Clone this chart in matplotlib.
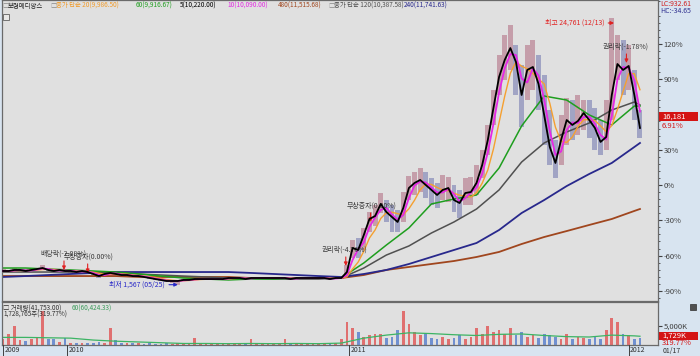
import numpy as np
import pandas as pd
import matplotlib.pyplot as plt
from matplotlib.patches import Rectangle
from matplotlib.transforms import blended_transform_factory as blend

plt.rcParams['font.family'] = ['Noto Sans CJK KR', 'DejaVu Sans']

# trading day index, one sample every 5 days (0 = Oct 2009, 565 = 2012-01-17)
days = list(range(0, 566, 5))
close = [2760, 2760, 2850, 2850, 2760, 2850, 2930, 3020, 2850, 2760, 2850, 2760, 2760, 2670, 2760, 2670,
         2500, 2320, 2500, 2590, 2500, 2410, 2410, 2320, 2320, 2240, 2150, 2060, 1980, 1890, 1890, 1890,
         1980, 1980, 2060, 2060, 2060, 2060, 2060, 2060, 2150, 2150, 2150, 2060, 2150, 2150, 2150, 2150,
         2150, 2150, 2150, 2060, 2150, 2150, 2150, 2150, 2150, 2150, 2060, 2150, 2150,
         2670, 4760, 4590, 5900, 7290, 7550, 8600, 7900, 7460, 7030, 8250, 9990, 10430, 10690, 10250, 9820,
         9380, 9820, 9990, 8940, 8680, 9550, 9640, 10430, 11990, 14170, 16960, 19660, 21140, 22180, 20960,
         18090, 20270, 20530, 19050, 16350, 13560, 12170, 14170, 15910, 15480, 15830, 16520, 15910, 15220,
         14000, 14430, 18090, 20790, 20270, 20620, 18090, 15220]
high = [2900, 2850, 2980, 2940, 2900, 2940, 3020, 3300, 3020, 2850, 2940, 2850, 2850, 2760, 2850, 2760,
        2670, 2500, 2590, 2760, 2590, 2500, 2500, 2410, 2410, 2320, 2240, 2150, 2060, 1980, 1980, 1980,
        2060, 2060, 2150, 2150, 2150, 2150, 2150, 2150, 2240, 2240, 2240, 2150, 2240, 2240, 2240, 2240,
        2240, 2240, 2240, 2150, 2240, 2240, 2240, 2240, 2240, 2240, 2150, 2240, 2240,
        3280, 5460, 5640, 6500, 7900, 8510, 9550, 8940, 8510, 8070, 9640, 11030, 11380, 11730, 11380, 10860,
        10430, 11120, 10950, 10250, 9820, 10860, 10950, 11990, 13300, 15480, 18530, 21570, 23320, 24190, 22450,
        20700, 22450, 22880, 21570, 19830, 16780, 14170, 16350, 17830, 17650, 18090, 17650, 17650, 16960,
        15910, 17650, 24761, 23320, 22880, 22450, 20270, 16780]
low = [2680, 2670, 2760, 2760, 2670, 2760, 2850, 2900, 2760, 2670, 2760, 2670, 2590, 2590, 2670, 2500,
       2410, 2150, 2410, 2500, 2410, 2320, 2320, 2240, 2240, 2150, 2060, 1980, 1890, 1800, 1720, 1567,
       1890, 1890, 1980, 1980, 1980, 1980, 1980, 1980, 2060, 2060, 2060, 1980, 2060, 2060, 2060, 2060,
       2060, 2060, 2060, 1980, 2060, 2060, 2060, 2060, 2060, 2060, 1980, 2060, 2060,
       2150, 3890, 3890, 4590, 6160, 6680, 7810, 7030, 6160, 6160, 7030, 8940, 9380, 9640, 9120, 8510,
       8250, 8940, 8770, 7900, 7380, 8510, 8510, 9380, 10860, 12860, 15480, 18090, 19400, 20270, 18090,
       15300, 17650, 18530, 16780, 13740, 11990, 10860, 11990, 13740, 14170, 14610, 15040, 14340, 13300,
       12860, 13300, 15910, 19400, 18090, 18530, 15910, 14340]
# thousand shares
volume = [1500, 3000, 5000, 1200, 1000, 1500, 2000, 9000, 1500, 1600, 800, 1800, 600, 500, 400, 600,
          500, 700, 600, 4400, 1200, 600, 500, 400, 500, 300, 400, 300, 300, 400, 300, 500,
          400, 300, 1800, 400, 300, 250, 300, 400, 300, 500, 300, 250, 1600, 300, 400, 250,
          300, 300, 1600, 300, 250, 300, 200, 300, 250, 300, 250, 500, 1500,
          6000, 4500, 3500, 2000, 2500, 3000, 2800, 1800, 2200, 4000, 9000, 5500, 3500, 2500, 3000, 1800,
          1500, 2000, 1500, 1800, 2500, 1500, 2000, 4500, 3000, 5000, 3500, 4000, 3000, 4500, 2500,
          3500, 2000, 2500, 1800, 3000, 2500, 2000, 1500, 2800, 1500, 2200, 1800, 1500, 2000,
          1500, 4000, 7000, 6000, 3000, 2500, 1500, 1729]

ma_days = list(range(0, 561, 20)) + [565]
ma60 = [3020, 3020, 2930, 2850, 2760, 2670, 2500, 2320, 2150, 2060, 1980, 2060, 2060, 2150, 2150, 2150,
        3460, 5020, 6510, 8600, 9030, 9380, 11730, 15390, 18000, 17650, 16350, 15480, 17130, 17130]
ma120 = [2670, 2670, 2670, 2670, 2670, 2590, 2500, 2410, 2320, 2240, 2150, 2150, 2060, 2060, 2060, 2150,
         3020, 4150, 4940, 6070, 7030, 8160, 9820, 12250, 13910, 14870, 15650, 16780, 17480, 17220]
ma240 = [2240, 2320, 2410, 2500, 2590, 2670, 2670, 2670, 2670, 2670, 2670, 2590, 2500, 2410, 2320, 2240,
         2500, 2850, 3370, 3980, 4590, 5200, 6330, 7810, 8940, 10160, 11210, 12170, 13560, 13910]
ma480 = [2320, 2320, 2320, 2320, 2320, 2320, 2240, 2240, 2240, 2240, 2240, 2150, 2150, 2150, 2150, 2150,
         2410, 2850, 3110, 3370, 3630, 3980, 4420, 5110, 5720, 6240, 6770, 7290, 7990, 8160]
vol_ma60 = [2000, 2000, 1900, 1800, 1300, 1000, 800, 600, 400, 400, 350, 400, 350, 400, 350, 500,
            1800, 2600, 3200, 3000, 2700, 2500, 2800, 2900, 2500, 2200, 2100, 2600, 2400, 2300]

year_idx = [0, 57, 307, 555]
year_lbl = ['2009', '2010', '2011', '2012']
last_date = '01/17'
base = 10250          # price at 0%
last_price = 16181
pct_ticks = [-90, -60, -30, 0, 30, 60, 90, 120]

# event marks: label, day, price at arrow tip
ev_lbl = ['배당락(-2.08%)', '무상증자(0.00%)', '권리락(-4.76%)', '무상증자(0.00%)', '권리락(-1.78%)']
ev_day = [54, 75, 304, 326, 553]
ev_price = [2850, 2590, 3200, 7030, 20880]

W, H = 700, 356
def fx(x): return x / W
def fy(y): return 1 - y / H

fig = plt.figure(figsize=(7, 3.56), dpi=100, facecolor='#d8e4f0')
ax = fig.add_axes([fx(2), fy(301), 656 / W, 301 / H])
axv = fig.add_axes([fx(2), fy(345), 656 / W, 43 / H])
for a in (ax, axv):
    a.set_facecolor('#e0e0e0')
    a.set_xlim(-1, 581)
    a.set_xticks([])
    for s in a.spines.values():
        s.set_color('#6a6a6a')
        s.set_linewidth(0.9)

d = np.array(days)
c = np.array(close)
hi = np.array(high)
lo = np.array(low)
up = np.r_[True, c[1:] >= c[:-1]]

# candles
ax.bar(d, hi - lo, bottom=lo, width=4.4, color=np.where(up, '#b0687e', '#6e74ae'),
       alpha=0.55, lw=0, zorder=1)

s = pd.Series(close)
ma10 = s.rolling(2, min_periods=1).mean()
ma20 = s.rolling(4, min_periods=1).mean()

ax.plot(ma_days, ma480, color='#a0461e', lw=1.3, zorder=2)
ax.plot(ma_days, ma240, color='#28288c', lw=1.3, zorder=2)
ax.plot(ma_days, ma120, color='#505050', lw=1.1, zorder=2)
ax.plot(ma_days, ma60, color='#1e9e1e', lw=1.1, zorder=2)
ax.plot(days, ma20, color='#f5a030', lw=1.0, zorder=3)
ax.plot(days, ma10, color='#e628e6', lw=1.3, zorder=3)
ax.plot(days, close, color='black', lw=1.3, zorder=4)

ax.set_ylim(147, 26364)
ax.yaxis.tick_right()
ax.set_yticks([base * (1 + p / 100) for p in pct_ticks])
ax.set_yticklabels([f'{p}%' for p in pct_ticks])
ax.set_yticks([base * (1 + p / 100) for p in range(-96, 157, 6) if p % 30], minor=True)
ax.tick_params(axis='y', which='major', direction='out', colors='#404040', labelsize=5.5, pad=1, length=3)
ax.tick_params(axis='y', which='minor', direction='out', colors='#404040', length=1.5)

# event arrows and labels
for lbl, dd, pp in zip(ev_lbl, ev_day, ev_price):
    ax.annotate('', xy=(dd, pp), xytext=(0, 9), textcoords='offset pixels',
                arrowprops=dict(arrowstyle='-|>', color='#e02020', lw=0.8, mutation_scale=5,
                                shrinkA=0, shrinkB=0))
    ax.annotate(lbl, xy=(dd, pp), xytext=(-24, 16), textcoords='offset pixels',
                ha='left', va='center', fontsize=5, color='#3c3c3c')

i_lo = int(np.argmin(lo))
ax.annotate(f'최저 {lo[i_lo]:,} (05/25)', xy=(d[i_lo], lo[i_lo]), xytext=(-13, 0),
            textcoords='offset pixels', ha='right', va='center', fontsize=5, color='#2828c8',
            arrowprops=dict(arrowstyle='-|>', color='#2828c8', lw=0.8, mutation_scale=5,
                            shrinkA=1, shrinkB=0))
i_hi = int(np.argmax(hi))
ax.annotate(f'최고 {hi[i_hi]:,} (12/13)', xy=(d[i_hi] + 2, hi[i_hi] - 400), xytext=(-10, 0),
            textcoords='offset pixels', ha='right', va='center', fontsize=5, color='#e02020',
            arrowprops=dict(arrowstyle='-|>', color='#e02020', lw=0.8, mutation_scale=5,
                            shrinkA=1, shrinkB=0))

# volume panel
v = np.array(volume) * 1000
axv.bar(d, v, width=2.4, color=np.where(up, '#e07070', '#7090d0'), lw=0, zorder=1)
axv.plot(ma_days, np.array(vol_ma60) * 1000, color='#3cb464', lw=0.9, zorder=2)
axv.set_ylim(0, 11.3e6)
axv.yaxis.tick_right()
axv.set_yticks([5e6])
axv.set_yticklabels(['5,000K'])
axv.tick_params(axis='y', direction='out', colors='#404040', labelsize=5.5, pad=1, length=3)

# date strip
tr = blend(axv.transData, fig.transFigure)
for i, lbl in zip(year_idx, year_lbl):
    fig.add_artist(plt.Line2D([i, i], [fy(345), fy(356)], transform=tr, color='#404040', lw=0.7))
    fig.text(i + 1, fy(350.5), lbl, transform=tr, ha='left', va='center', fontsize=5, color='#303030')
fig.text(fx(663), fy(350.5), last_date, ha='left', va='center', fontsize=5, color='#303030')

# title line
title = [('□', 2, '#8a8a8a'), ('보령메디앙스', 8, '#202020'), ('□', 50, '#8a8a8a'),
         ('중가 단순 20(9,986.50)', 56, '#f09a28'), ('60(9,916.67)', 136, '#1e9e1e'),
         ('5(10,220.00)', 180, '#000000'), ('10(10,090.00)', 227, '#e028e0'),
         ('480(11,515.68)', 278, '#a0461e'), ('□', 328, '#8a8a8a'),
         ('중가 단순 120(10,387.58)', 334, '#505050'), ('240(11,741.63)', 404, '#28288c')]
for txt, x, col in title:
    fig.text(fx(x), fy(6), txt, ha='left', va='center', fontsize=4.6, color=col)
fig.add_artist(Rectangle((fx(3), fy(20)), 6 / W, 6 / H, transform=fig.transFigure,
                         fc='#e8e8e8', ec='#606060', lw=0.6))

fig.text(fx(660), fy(4), 'LC:932.61', ha='left', va='center', fontsize=5, color='#d02020')
fig.text(fx(660), fy(11), 'HC:-34.65', ha='left', va='center', fontsize=5, color='#303090')

# current price box
trp = blend(fig.transFigure, ax.transData)
fig.add_artist(Rectangle((fx(659), last_price - 390), 39 / W, 780, transform=trp,
                         fc='#d41414', ec='none', zorder=1))
fig.text(fx(662), last_price, f'{last_price:,}', transform=trp, ha='left', va='center',
         fontsize=5.5, color='white')
fig.text(fx(662), last_price - 780, '6.91%', transform=trp, ha='left', va='center',
         fontsize=5.5, color='#d41414')

# volume panel labels
fig.text(fx(3), fy(308.5), '□ 거래량(41,753.00)', ha='left', va='center', fontsize=4.6, color='#303030')
fig.text(fx(72), fy(308.5), '60(60,424.33)', ha='left', va='center', fontsize=4.6, color='#3a9a5a')
fig.text(fx(3), fy(315), '1,728,765주(319.77%)', ha='left', va='center', fontsize=4.6, color='#303030')
fig.add_artist(Rectangle((fx(690), fy(310)), 6 / W, 6 / H, transform=fig.transFigure,
                         fc='#505050', ec='#303030', lw=0.5))
fig.add_artist(Rectangle((fx(659), fy(339.5)), 39 / W, 8 / H, transform=fig.transFigure,
                         fc='#d41414', ec='none', zorder=1))
fig.text(fx(662), fy(335.5), '1,729K', ha='left', va='center', fontsize=5.5, color='white')
fig.text(fx(662), fy(343), '319.77%', ha='left', va='center', fontsize=5.5, color='#d41414')

fig.savefig('out.png', dpi=100, facecolor=fig.get_facecolor())
